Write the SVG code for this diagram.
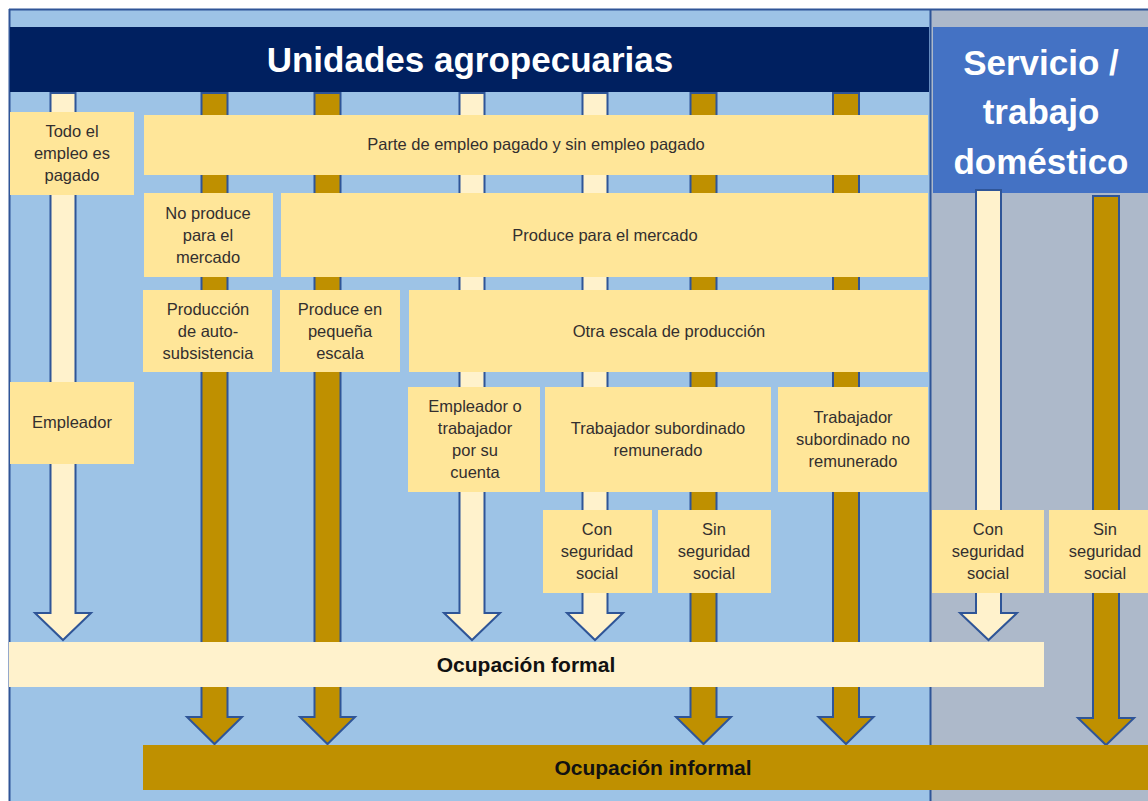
<svg xmlns="http://www.w3.org/2000/svg" width="1148" height="801" viewBox="0 0 1148 801">
<style>
.bx{fill:#FFE699}
.t{font-family:"Liberation Sans",Arial,sans-serif;font-size:16.5px;fill:#332F2F;text-anchor:middle}
.h{font-family:"Liberation Sans",Arial,sans-serif;font-size:35px;font-weight:bold;fill:#FFFFFF;text-anchor:middle}
.b{font-family:"Liberation Sans",Arial,sans-serif;font-size:21px;font-weight:bold;fill:#111111;text-anchor:middle}
.ac{fill:#FFF2CC;stroke:#2F5597;stroke-width:2;stroke-linejoin:miter}
.ag{fill:#BF9000;stroke:#2F5597;stroke-width:2;stroke-linejoin:miter}
</style>
<rect x="0" y="0" width="1148" height="801" fill="#FFFFFF"/>
<g id="background">
<rect x="9" y="9" width="922" height="800" fill="#9DC3E6"/>
<rect x="931" y="9" width="220" height="800" fill="#ADB9CA"/>
<line x1="9" y1="9.5" x2="1148" y2="9.5" stroke="#2F5597" stroke-width="2"/>
<line x1="9.5" y1="9" x2="9.5" y2="801" stroke="#2F5597" stroke-width="2"/>
<line x1="930.5" y1="9" x2="930.5" y2="801" stroke="#2F5597" stroke-width="2"/>
</g>
<g id="header-agro">
<rect x="10" y="27" width="919" height="65" fill="#002060"/>
<text class="h" x="470" y="72">Unidades agropecuarias</text>
</g>
<g id="header-servicio">
<rect x="933" y="27" width="215" height="166" fill="#4472C4"/>
<text class="h" x="1041" y="75">Servicio /</text>
<text class="h" x="1041" y="124">trabajo</text>
<text class="h" x="1041" y="174">doméstico</text>
</g>
<g id="connectors">
<path class="ac" d="M50.5,93 H75.5 V613 H91 L63,640 L35,613 H50.5 Z"/>
<path class="ac" d="M459.5,93 H484.5 V613 H500 L472,640 L444,613 H459.5 Z"/>
<path class="ac" d="M582.5,93 H607.5 V613 H623 L595,640 L567,613 H582.5 Z"/>
<path class="ac" d="M976,190 H1001 V613 H1017 L988.5,640 L960,613 H976 Z"/>
<path class="ag" d="M201.5,93 H227.5 V717 H242 L214.5,744 L187,717 H201.5 Z"/>
<path class="ag" d="M314.5,93 H340.5 V717 H355 L327.5,744 L300,717 H314.5 Z"/>
<path class="ag" d="M690.5,93 H716.5 V717 H731 L703.5,744 L676,717 H690.5 Z"/>
<path class="ag" d="M833,93 H859 V717 H873.5 L846,744 L818.5,717 H833 Z"/>
<path class="ag" d="M1093,196 H1119 V718 H1134 L1106,745 L1078,718 H1093 Z"/>
</g>
<g id="n-todo"><rect class="bx" x="10" y="112" width="124" height="83"/>
<text class="t" x="72" y="137">Todo el</text><text class="t" x="72" y="159">empleo es</text><text class="t" x="72" y="181">pagado</text></g>
<g id="n-parte"><rect class="bx" x="144" y="115" width="784" height="60"/>
<text class="t" x="536" y="150">Parte de empleo pagado y sin empleo pagado</text></g>
<g id="n-noproduce"><rect class="bx" x="144" y="193" width="129" height="84"/>
<text class="t" x="208" y="219">No produce</text><text class="t" x="208" y="241">para el</text><text class="t" x="208" y="263">mercado</text></g>
<g id="n-produce"><rect class="bx" x="281" y="193" width="647" height="84"/>
<text class="t" x="605" y="241">Produce para el mercado</text></g>
<g id="n-auto"><rect class="bx" x="143" y="290" width="129" height="82"/>
<text class="t" x="208" y="315">Producción</text><text class="t" x="208" y="337">de auto-</text><text class="t" x="208" y="359">subsistencia</text></g>
<g id="n-pequena"><rect class="bx" x="280" y="290" width="120" height="82"/>
<text class="t" x="340" y="315">Produce en</text><text class="t" x="340" y="337">pequeña</text><text class="t" x="340" y="359">escala</text></g>
<g id="n-otra"><rect class="bx" x="409" y="290" width="519" height="82"/>
<text class="t" x="669" y="337">Otra escala de producción</text></g>
<g id="n-empleador"><rect class="bx" x="10" y="382" width="124" height="82"/>
<text class="t" x="72" y="428">Empleador</text></g>
<g id="n-cuenta"><rect class="bx" x="408" y="387" width="132" height="105"/>
<text class="t" x="475" y="412">Empleador o</text><text class="t" x="475" y="434">trabajador</text><text class="t" x="475" y="456">por su</text><text class="t" x="475" y="478">cuenta</text></g>
<g id="n-remunerado"><rect class="bx" x="545" y="387" width="226" height="105"/>
<text class="t" x="658" y="434">Trabajador subordinado</text><text class="t" x="658" y="456">remunerado</text></g>
<g id="n-noremunerado"><rect class="bx" x="778" y="387" width="150" height="105"/>
<text class="t" x="853" y="423">Trabajador</text><text class="t" x="853" y="445">subordinado no</text><text class="t" x="853" y="467">remunerado</text></g>
<g id="n-con1"><rect class="bx" x="543" y="510" width="109" height="83"/>
<text class="t" x="597" y="535">Con</text><text class="t" x="597" y="557">seguridad</text><text class="t" x="597" y="579">social</text></g>
<g id="n-sin1"><rect class="bx" x="658" y="510" width="113" height="83"/>
<text class="t" x="714" y="535">Sin</text><text class="t" x="714" y="557">seguridad</text><text class="t" x="714" y="579">social</text></g>
<g id="n-con2"><rect class="bx" x="932" y="510" width="112" height="83"/>
<text class="t" x="988" y="535">Con</text><text class="t" x="988" y="557">seguridad</text><text class="t" x="988" y="579">social</text></g>
<g id="n-sin2"><rect class="bx" x="1049" y="510" width="99" height="83"/>
<text class="t" x="1105" y="535">Sin</text><text class="t" x="1105" y="557">seguridad</text><text class="t" x="1105" y="579">social</text></g>
<g id="n-formal"><rect x="9" y="642" width="1035" height="45" fill="#FFF2CC"/>
<text class="b" x="526" y="672">Ocupación formal</text></g>
<g id="n-informal"><rect x="143" y="745" width="1005" height="45" fill="#BF9000"/>
<text class="b" x="653" y="775">Ocupación informal</text></g>
</svg>
